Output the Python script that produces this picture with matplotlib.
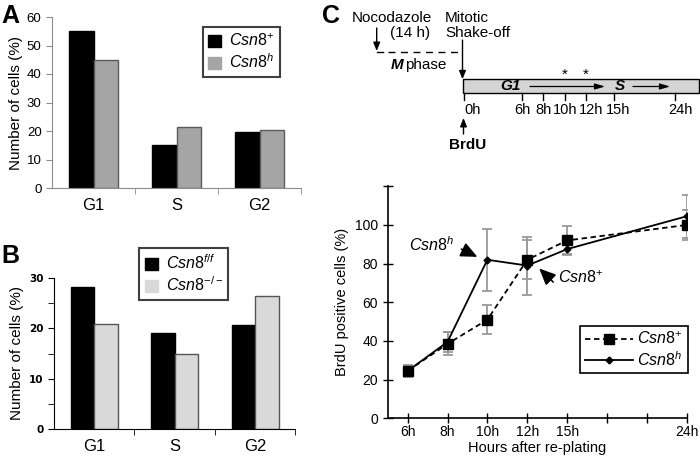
import numpy as np
import matplotlib.pyplot as plt
from matplotlib.patches import Rectangle, Patch

plt.rcParams['font.family'] = ['Liberation Sans', 'DejaVu Sans']
plt.rcParams['mathtext.fontset'] = 'custom'
plt.rcParams['mathtext.it'] = 'Liberation Sans:italic'
plt.rcParams['mathtext.rm'] = 'Liberation Sans'
plt.rcParams['mathtext.bf'] = 'Liberation Sans:bold'

# panel A / B : cell cycle distribution
phases = ['G1', 'S', 'G2']
a_plus = [55, 15, 19.5]
a_h = [45, 21.3, 20.5]
b_ff = [28.2, 19.1, 20.6]
b_ko = [20.9, 15.0, 26.4]

# panel C : BrdU time course
time_ticks = ['6h', '8h', '10h', '12h', '15h', '', '', '24h']
sample_hours = ['6h', '8h', '10h', '12h', '15h', '24h']
c_plus = [24.5, 38.5, 51, 82, 92, 100]
c_plus_err = [3, 6, 7.5, 10, 7.5, 8]
c_h = [24.5, 39.5, 82, 79, 87.5, 104.5]
c_h_err = [2.5, 5, 16, 15, 2.5, 11]

# schematic time line (0h = shake-off), tick and label x in pixels
sched_labels = ['0h', '6h', '8h', '10h', '12h', '15h', '24h']
sched_x = [463.5, 522, 543, 565, 586, 614, 675]
sched_lab_x = [464, 522.5, 544, 565, 591.5, 618, 680.5]

lab_plus = r'$\mathit{Csn8}^{+}$'
lab_h = r'$\mathit{Csn8}^{\mathit{h}}$'
lab_ff = r'$\mathit{Csn8}^{\mathit{f/f}}$'
lab_ko = r'$\mathit{Csn8}^{\mathit{-/-}}$'

W, H = 700, 458


def rect(l, t, r, b):
    return [l / W, 1 - b / H, (r - l) / W, (b - t) / H]


fig = plt.figure(figsize=(7, 4.58), dpi=100)

# ---------------- A
axA = fig.add_axes(rect(52, 17, 301, 188))
x = np.arange(len(phases))
w = 0.29
axA.bar(x - w / 2, a_plus, w, color='black', edgecolor='black', lw=1)
axA.bar(x + w / 2, a_h, w, color='#a5a5a5', edgecolor='#5a5a5a', lw=1)
axA.set_xlim(-0.5, 2.5)
axA.set_ylim(0, 60)
axA.set_yticks(range(0, 61, 10))
axA.set_xticks(x)
axA.set_xticklabels(phases, fontsize=12)
axA.set_xticks([0.5, 1.5, 2.5], minor=True)
axA.tick_params(axis='x', which='major', length=0, pad=7)
axA.tick_params(axis='x', which='minor', length=4, color='#8c8c8c')
axA.tick_params(axis='y', labelsize=9.5, length=4, color='#8c8c8c')
for s in ['top', 'right']:
    axA.spines[s].set_visible(False)
for s in ['left', 'bottom']:
    axA.spines[s].set_color('#8c8c8c')
axA.set_ylabel('Number of cells (%)', fontsize=11, labelpad=3)
axA.legend([Patch(color='black'), Patch(color='#a5a5a5')], [lab_plus, lab_h],
           loc='upper right', bbox_to_anchor=(0.916, 0.94), borderaxespad=0,
           fontsize=11.5, fancybox=False, edgecolor='#404040', framealpha=1,
           handlelength=0.8, handleheight=0.8, handletextpad=0.5,
           labelspacing=0.2, borderpad=0.35).get_frame().set_linewidth(1.5)

# ---------------- B
axB = fig.add_axes(rect(54, 277.7, 295.5, 429.3))
axB.bar(x - w / 2, b_ff, w, color='black', edgecolor='black', lw=1)
axB.bar(x + w / 2, b_ko, w, color='#d9d9d9', edgecolor='#555555', lw=1)
axB.set_xlim(-0.5, 2.5)
axB.set_ylim(0, 30)
axB.set_yticks([0, 10, 20, 30])
axB.set_yticks([5, 15, 25], minor=True)
axB.set_xticks(x)
axB.set_xticklabels(phases, fontsize=12)
axB.set_xticks([0.5, 1.5, 2.5], minor=True)
axB.tick_params(axis='x', which='major', length=0, pad=7)
axB.tick_params(axis='x', which='minor', length=4)
axB.tick_params(axis='y', which='both', length=4)
for t in axB.get_yticklabels():
    t.set_fontfamily('DejaVu Sans')
    t.set_fontweight('bold')
    t.set_fontsize(7.5)
for s in ['top', 'right']:
    axB.spines[s].set_visible(False)
axB.set_ylabel('Number of cells (%)', fontsize=11, labelpad=4)
axB.legend([Patch(color='black'), Patch(color='#d9d9d9')], [lab_ff, lab_ko],
           loc='upper left', bbox_to_anchor=(0.353, 1.196), borderaxespad=0,
           fontsize=11.5, fancybox=False, edgecolor='#404040', framealpha=1,
           handlelength=0.8, handleheight=0.8, handletextpad=0.5,
           labelspacing=0.2, borderpad=0.35).get_frame().set_linewidth(1.5)

# ---------------- C (plot)
axC = fig.add_axes(rect(387.7, 186.3, 686.7, 418.3))
xpos = [time_ticks.index(h) for h in sample_hours]
axC.errorbar(xpos, c_plus, yerr=c_plus_err, fmt='none', ecolor='#9a9a9a',
             elinewidth=1.3, capsize=3.5, capthick=1.3, zorder=2)
axC.errorbar(xpos, c_h, yerr=c_h_err, fmt='none', ecolor='#9a9a9a',
             elinewidth=1.3, capsize=3.5, capthick=1.3, zorder=2)
axC.plot(xpos, c_plus, color='black', ls=(0, (3, 2)), lw=1.3, marker='s',
         ms=6.5, zorder=3, label=lab_plus)
axC.plot(xpos, c_h, color='black', ls='-', lw=1.3, marker='D', ms=3.5,
         zorder=4, label=lab_h)
axC.set_xlim(-0.5, 7)
axC.set_ylim(0, 120)
axC.set_xticks(range(len(time_ticks)))
axC.set_xticklabels(time_ticks)
axC.set_yticks(range(0, 121, 20))
axC.set_yticklabels([str(v) if v <= 100 else '' for v in range(0, 121, 20)])
axC.tick_params(direction='inout', length=7, width=1, labelsize=10)
axC.tick_params(axis='x', pad=1)
for s in ['top', 'right']:
    axC.spines[s].set_visible(False)
for s in ['left', 'bottom']:
    axC.spines[s].set_linewidth(1.2)
axC.set_xlabel('Hours after re-plating', fontsize=10.5, labelpad=2)
axC.set_ylabel('BrdU positive cells (%)', fontsize=10.5, labelpad=4)
axC.legend(loc='lower right', bbox_to_anchor=(1.003, 0.194), borderaxespad=0,
           fontsize=11.5, fancybox=False, edgecolor='black', framealpha=1,
           handlelength=3.0, handletextpad=0.3, labelspacing=0.15,
           borderpad=0.3).get_frame().set_linewidth(1.2)

arrow = dict(arrowstyle='-|>,head_length=1.0,head_width=0.45', color='black',
             lw=1.2, shrinkA=0, shrinkB=0)
axC.text(0.6, 90, lab_h, fontsize=11.5, ha='center', va='center')
axC.annotate('', xy=(1.75, 83.5), xytext=(1.35, 87.5), arrowprops=arrow)
axC.text(4.35, 72.5, lab_plus, fontsize=11.5, ha='center', va='center')
axC.annotate('', xy=(3.3, 77.5), xytext=(3.65, 70.5), arrowprops=arrow)

# ---------------- overlay: letters + schematic (pixel coords)
ov = fig.add_axes([0, 0, 1, 1])
ov.set_xlim(0, W)
ov.set_ylim(H, 0)
ov.axis('off')

ov.text(1, 16, 'A', fontsize=18, fontweight='bold', va='center')
ov.text(1, 256, 'B', fontsize=18, fontweight='bold', va='center')
ov.text(322, 16, 'C', fontsize=18, fontweight='bold', va='center')

fs = 11
ov.text(352, 18, 'Nocodazole', fontsize=fs, va='center')
ov.text(390, 33, '(14 h)', fontsize=fs, va='center')
ov.annotate('', xy=(376.7, 51), xytext=(376.7, 28),
            arrowprops=dict(arrowstyle='-|>,head_length=0.5,head_width=0.2',
                            color='black', lw=1, shrinkA=0, shrinkB=0))
ov.plot([376.7, 383], [52.3, 52.3], color='black', lw=1)
ov.plot([388, 461.7], [52.3, 52.3], color='black', lw=1, ls=(0, (5, 4)))
ov.text(391, 65, 'M', fontsize=fs, fontweight='bold', fontstyle='italic', va='center')
ov.text(405, 65, 'phase', fontsize=fs, va='center')
ov.text(445, 18, 'Mitotic', fontsize=fs, va='center')
ov.text(445, 33, 'Shake-off', fontsize=fs, va='center')
ov.annotate('', xy=(sched_x[0] - 1, 79.3), xytext=(sched_x[0] - 1, 40),
            arrowprops=dict(arrowstyle='-|>,head_length=0.5,head_width=0.2',
                            color='black', lw=1, shrinkA=0, shrinkB=0))
ov.add_patch(Rectangle((462.7, 79.3), 236, 14, facecolor='#d4d4d4',
                       edgecolor='black', lw=1))
ov.text(510, 86.5, 'G1', fontsize=fs, fontweight='bold', fontstyle='italic',
        ha='center', va='center')
ov.text(620, 86.5, 'S', fontsize=fs, fontweight='bold', fontstyle='italic',
        ha='center', va='center')
line_arrow = dict(arrowstyle='-|>,head_length=0.6,head_width=0.18',
                  color='black', lw=0.9, shrinkA=0, shrinkB=0)
ov.annotate('', xy=(605, 86.5), xytext=(530, 86.5), arrowprops=line_arrow)
ov.annotate('', xy=(670, 86.5), xytext=(633, 86.5), arrowprops=line_arrow)
for xs in sched_x[3:5]:
    ov.text(xs, 75, '*', fontsize=fs, ha='center', va='center')
for xs, xl, lab in zip(sched_x, sched_lab_x, sched_labels):
    ov.plot([xs, xs], [93.3, 100], color='black', lw=1)
    if lab == '0h':
        ov.text(xl, 110, lab, fontsize=10.5, ha='left', va='center')
    else:
        ov.text(xl, 110, lab, fontsize=10.5, ha='center', va='center')
ov.annotate('', xy=(sched_x[0], 118), xytext=(sched_x[0], 134),
            arrowprops=dict(arrowstyle='-|>,head_length=0.5,head_width=0.2',
                            color='black', lw=1, shrinkA=0, shrinkB=0))
ov.text(468, 145, 'BrdU', fontsize=fs, fontweight='bold', ha='center', va='center')

fig.savefig('out.png', dpi=100)
